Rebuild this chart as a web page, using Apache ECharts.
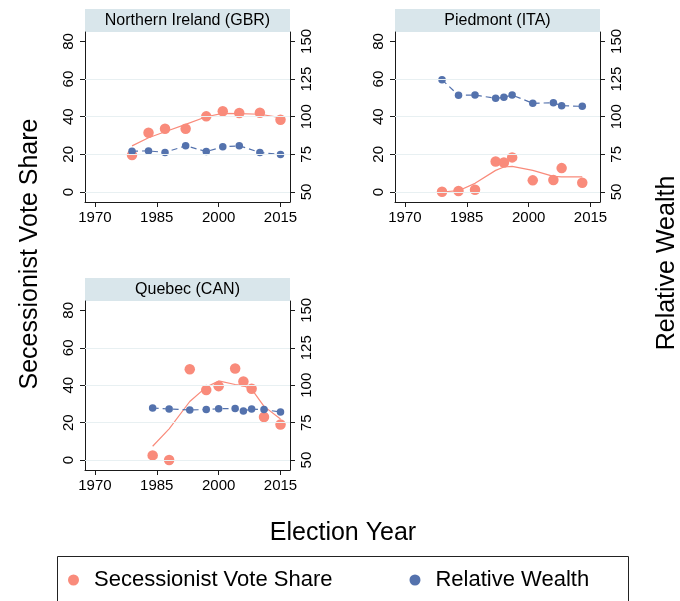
<!DOCTYPE html>
<html>
<head>
<meta charset="utf-8">
<script src="https://cdn.jsdelivr.net/npm/echarts@6/dist/echarts.min.js"></script>
<style>
  html, body { margin: 0; padding: 0; background: #fff; }
  #chart { width: 680px; height: 601px; }
</style>
</head>
<body>
<div id="chart"></div>
<script>
// Panel titles
const regionNames = ['Northern Ireland (GBR)', 'Piedmont (ITA)', 'Quebec (CAN)'];

// Northern Ireland
const niYears  = [1979, 1983, 1987, 1992, 1997, 2001, 2005, 2010, 2015];
const niVote   = [19.6, 31.5, 33.6, 33.6, 40.2, 42.9, 42.0, 42.1, 38.4];
const niFit    = [24.5, 28.8, 32.0, 35.9, 40.0, 41.8, 41.6, 41.3, 39.5];
const niWealth = [77.1, 77.3, 76.3, 80.7, 76.9, 80.0, 80.7, 76.3, 74.9];

// Piedmont
const pdYears  = [1979, 1983, 1987, 1992, 1994, 1996, 2001, 2006, 2008, 2013];
const pdVote   = [0.1, 0.5, 1.2, 16.2, 15.7, 18.4, 6.2, 6.4, 12.7, 4.9];
const pdFit    = [0.0, 0.7, 4.6, 11.5, 13.3, 13.6, 11.5, 8.3, 8.0, 8.0];
const pdWealth = [124.5, 114.2, 114.4, 112.2, 112.9, 114.4, 108.9, 109.3, 107.3, 106.9];

// Quebec
const qcYears  = [1984, 1988, 1993, 1997, 2000, 2004, 2006, 2008, 2011, 2015];
const qcVote   = [2.5, 0.0, 48.5, 37.4, 39.5, 48.9, 42.0, 38.1, 23.0, 19.0];
const qcFit    = [7.4, 16.7, 31.3, 39.0, 42.3, 40.4, 39.8, 37.9, 28.7, 22.0];
const qcWealth = [84.8, 84.1, 83.5, 83.7, 84.3, 84.5, 82.8, 84.1, 83.7, 82.1];

// Tick labels
const yearTicks   = [1970, 1985, 2000, 2015];
const voteTicks   = [0, 20, 40, 60, 80];
const wealthTicks = [50, 75, 100, 125, 150];
const gridValues  = [0, 20, 40, 60];

const panels = [
  { name: regionNames[0], years: niYears, vote: niVote, fit: niFit, wealth: niWealth },
  { name: regionNames[1], years: pdYears, vote: pdVote, fit: pdFit, wealth: pdWealth },
  { name: regionNames[2], years: qcYears, vote: qcVote, fit: qcFit, wealth: qcWealth }
];

const PINK = '#f98b7b';
const BLUE = '#5472ad';
const FONT = 'Liberation Sans, Arial, sans-serif';
const AXIS = '#1a1a1a';

// Layout of the three panels
const boxes = [
  { left: 85,  top: 32,  width: 205, height: 170 },
  { left: 395, top: 32,  width: 205, height: 170 },
  { left: 85,  top: 301, width: 205, height: 169 }
];
const VOTE_MIN = -5.3, VOTE_MAX = 85;
// right axis is a linear rescale of the left: 0 -> 50, 80 -> 150
const WEALTH_MIN = 50 + 1.25 * VOTE_MIN, WEALTH_MAX = 50 + 1.25 * VOTE_MAX;

const zip = (xs, ys) => xs.map((x, i) => [x, ys[i]]);
const plain = v => String(v);

const grids = [], xAxes = [], yAxes = [], series = [], graphics = [];

boxes.forEach((b, i) => {
  grids.push({ left: b.left, top: b.top, width: b.width, height: b.height });

  xAxes.push({
    type: 'value', gridIndex: i, min: 1967.6, max: 2017.3,
    axisLine: { show: true, onZero: false, lineStyle: { color: AXIS, width: 1 } },
    axisTick: { show: true, length: 5, customValues: yearTicks, lineStyle: { color: AXIS } },
    axisLabel: { customValues: yearTicks, formatter: plain, fontFamily: FONT, fontSize: 15, color: '#000', margin: 8 },
    splitLine: { show: false }
  });

  yAxes.push({
    type: 'value', gridIndex: i, position: 'left', min: VOTE_MIN, max: VOTE_MAX,
    axisLine: { show: true, onZero: false, lineStyle: { color: AXIS, width: 1 } },
    axisTick: { show: true, length: 5, customValues: voteTicks, lineStyle: { color: AXIS } },
    axisLabel: { customValues: voteTicks, formatter: plain, rotate: 90, fontFamily: FONT, fontSize: 15, color: '#000', margin: 9 },
    splitLine: { show: false }
  });
  yAxes.push({
    type: 'value', gridIndex: i, position: 'right', min: WEALTH_MIN, max: WEALTH_MAX,
    axisLine: { show: true, onZero: false, lineStyle: { color: AXIS, width: 1 } },
    axisTick: { show: true, length: 5, customValues: wealthTicks, lineStyle: { color: AXIS } },
    axisLabel: { customValues: wealthTicks, formatter: plain, rotate: 90, fontFamily: FONT, fontSize: 15, color: '#000', margin: 9 },
    splitLine: { show: false }
  });

  const p = panels[i];

  // smoothed vote share, with the horizontal gridlines attached
  series.push({
    name: 'Smoothed Vote Share', type: 'line', xAxisIndex: i, yAxisIndex: 2 * i,
    data: zip(p.years, p.fit), showSymbol: false, symbol: 'none', z: 2,
    lineStyle: { color: PINK, width: 1.2 }, silent: true,
    markLine: {
      silent: true, symbol: ['none', 'none'], label: { show: false },
      lineStyle: { color: '#e8f0f2', width: 1.2, type: 'solid' },
      data: gridValues.map(v => ({ yAxis: v }))
    }
  });
  series.push({
    name: 'Secessionist Vote Share', type: 'scatter', xAxisIndex: i, yAxisIndex: 2 * i,
    data: zip(p.years, p.vote), symbol: 'circle', symbolSize: 10.5, z: 3,
    itemStyle: { color: PINK, opacity: 1 }
  });
  series.push({
    name: 'Relative Wealth', type: 'line', xAxisIndex: i, yAxisIndex: 2 * i + 1,
    data: zip(p.years, p.wealth), symbol: 'circle', symbolSize: 7.5, showSymbol: true, z: 4,
    lineStyle: { color: BLUE, width: 1.2, type: [6, 4] },
    itemStyle: { color: BLUE, borderWidth: 0 }
  });

  // panel title strip
  graphics.push({
    type: 'rect', left: b.left, top: b.top - 23,
    shape: { width: b.width, height: 23 },
    style: { fill: '#d9e6eb' }, silent: true
  });
  graphics.push({
    type: 'text', x: b.left + b.width / 2, y: b.top - 11.5,
    style: { text: p.name, font: '16px ' + FONT, fill: '#000', align: 'center', verticalAlign: 'middle' },
    silent: true
  });
});

// axis titles
graphics.push({
  type: 'text', x: 30, y: 254, rotation: Math.PI / 2,
  style: { text: 'Secessionist Vote Share', font: '25px ' + FONT, fill: '#000', align: 'center', verticalAlign: 'middle' }
});
graphics.push({
  type: 'text', x: 667, y: 263, rotation: Math.PI / 2,
  style: { text: 'Relative Wealth', font: '25px ' + FONT, fill: '#000', align: 'center', verticalAlign: 'middle' }
});
graphics.push({
  type: 'text', x: 343, y: 533,
  style: { text: 'Election Year', font: '25px ' + FONT, fill: '#000', align: 'center', verticalAlign: 'middle' }
});
// legend frame
graphics.push({
  type: 'rect', left: 57, top: 556, z: -1,
  shape: { width: 571, height: 60 },
  style: { fill: '#fff', stroke: '#222', lineWidth: 1 }, silent: true
});

const option = {
  animation: false,
  backgroundColor: '#fff',
  grid: grids,
  xAxis: xAxes,
  yAxis: yAxes,
  series: series,
  graphic: graphics,
  legend: {
    left: 68, top: 569, padding: 0,
    itemWidth: 31, itemHeight: 11, itemGap: 77,
    icon: 'circle',
    textStyle: { fontFamily: FONT, fontSize: 22, color: '#000' },
    data: [
      { name: 'Secessionist Vote Share', icon: 'circle', itemStyle: { color: PINK } },
      { name: 'Relative Wealth', icon: 'circle', itemStyle: { color: BLUE } }
    ],
    selectedMode: false
  }
};

const chart = echarts.init(document.getElementById('chart'), null, { renderer: 'canvas' });
chart.setOption(option);
</script>
</body>
</html>
